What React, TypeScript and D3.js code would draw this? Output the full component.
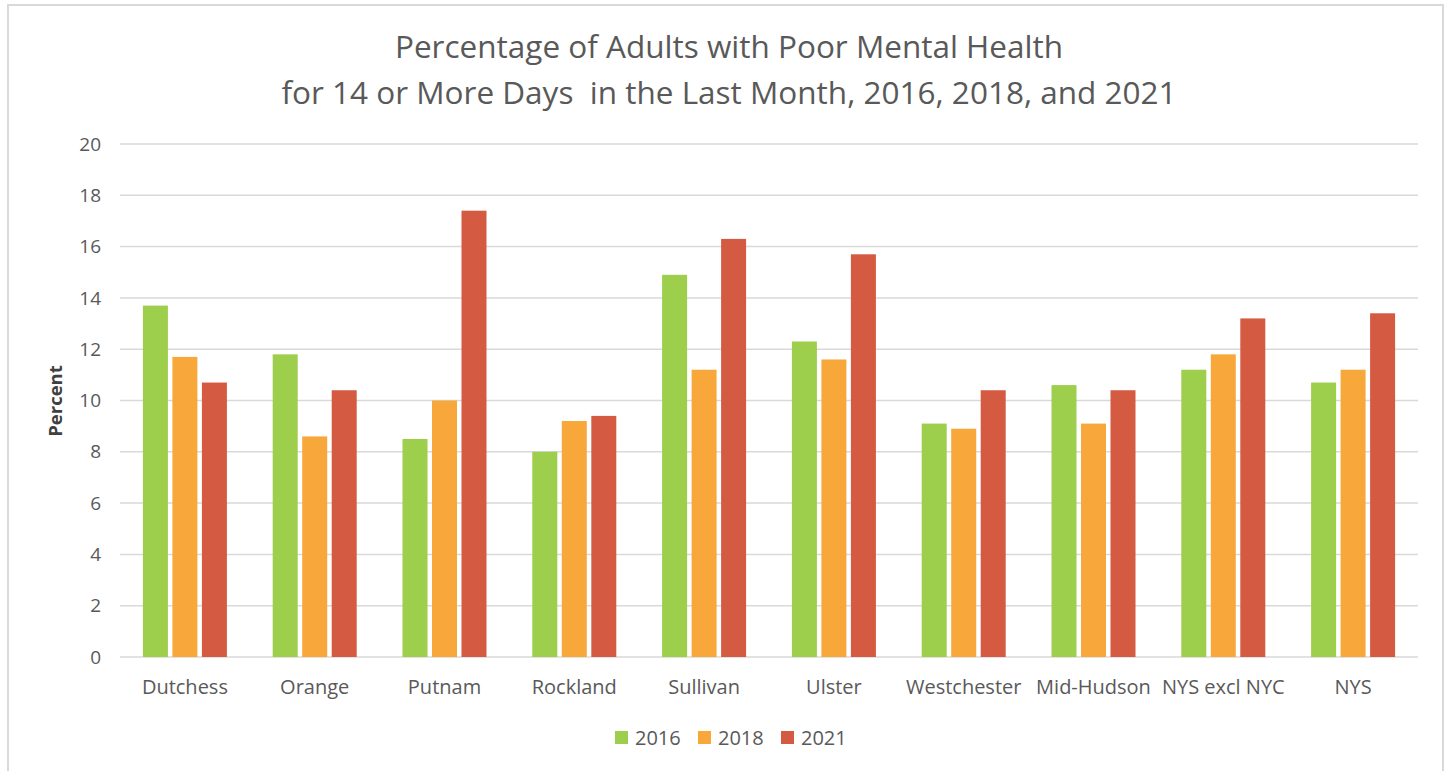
import React from "react";
import * as d3 from "d3";

const categories = ["Dutchess", "Orange", "Putnam", "Rockland", "Sullivan", "Ulster", "Westchester", "Mid-Hudson", "NYS excl NYC", "NYS"];
const years = ["2016", "2018", "2021"];
const values2016 = [13.7, 11.8, 8.5, 8.0, 14.9, 12.3, 9.1, 10.6, 11.2, 10.7];
const values2018 = [11.7, 8.6, 10.0, 9.2, 11.2, 11.6, 8.9, 9.1, 11.8, 11.2];
const values2021 = [10.7, 10.4, 17.4, 9.4, 16.3, 15.7, 10.4, 10.4, 13.2, 13.4];
const yTicks = [0, 2, 4, 6, 8, 10, 12, 14, 16, 18, 20];
const colors = ["#9DCE4C", "#F8A83B", "#D45A42"];
const titleLines = ["Percentage of Adults with Poor Mental Health", "for 14 or More Days  in the Last Month, 2016, 2018, and 2021"];

const W = 1448;
const H = 771;
const FONT = "'Open Sans', 'DejaVu Sans', sans-serif";

export default function App() {
  const series = [values2016, values2018, values2021];
  const x0 = d3.scaleBand<string>().domain(categories).range([120, 1418]).padding(0);
  const bw = x0.bandwidth();
  const x1 = d3.scaleBand<string>().domain(years).range([bw / 2 - 42, bw / 2 + 42]).paddingInner(0.1525).paddingOuter(0);
  const y = d3.scaleLinear().domain([0, 20]).range([657, 144]);

  return (
    <svg width={W} height={H} style={{ position: "absolute", left: 0, top: 0, background: "#fff" }} fontFamily={FONT}>
      <rect x={0} y={0} width={W} height={H} fill="#fff" />
      <path d={`M8,${H} V5 H1443 V${H}`} fill="none" stroke="#d9d9d9" strokeWidth={2} />
      {titleLines.map((t, i) => (
        <text key={i} x={729} y={58 + i * 46} textAnchor="middle" fontSize={31.5} fill="#595959" style={{ whiteSpace: "pre" }}>
          {t}
        </text>
      ))}
      {yTicks.map((t) => (
        <g key={t}>
          <line x1={120} x2={1418} y1={y(t)} y2={y(t)} stroke="#d9d9d9" strokeWidth={1.5} />
          <text x={101} y={y(t)} dy="0.35em" textAnchor="end" fontSize={19} fill="#595959">
            {t}
          </text>
        </g>
      ))}
      {categories.map((c, ci) => (
        <g key={c} transform={`translate(${x0(c)},0)`}>
          {years.map((yr, si) => (
            <rect
              key={yr}
              x={x1(yr)}
              y={y(series[si][ci])}
              width={x1.bandwidth()}
              height={y(0) - y(series[si][ci])}
              fill={colors[si]}
            />
          ))}
          <text x={bw / 2} y={694} textAnchor="middle" fontSize={20} fill="#595959">
            {c}
          </text>
        </g>
      ))}
      <text transform="translate(62,401) rotate(-90)" textAnchor="middle" fontSize={18.5} fontWeight="bold" fill="#404040">
        Percent
      </text>
      {years.map((yr, i) => (
        <g key={yr} transform={`translate(${615 + i * 83},731)`}>
          <rect x={0} y={0} width={13} height={13} fill={colors[i]} />
          <text x={20} y={6.5} dy="0.36em" fontSize={20} fill="#595959">
            {yr}
          </text>
        </g>
      ))}
    </svg>
  );
}
